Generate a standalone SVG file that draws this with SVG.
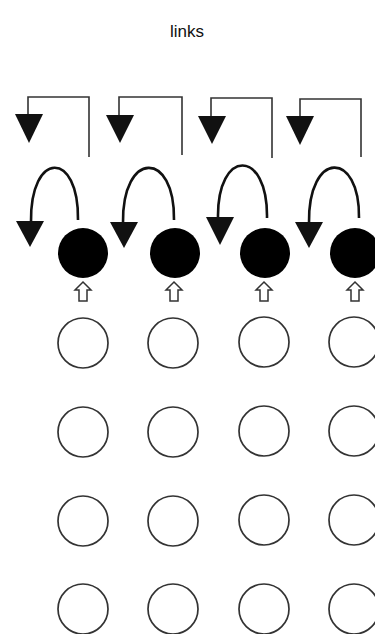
<svg xmlns="http://www.w3.org/2000/svg" width="375" height="634" viewBox="0 0 375 634">
<style>
.title{font-family:"Liberation Sans",Arial,sans-serif;font-size:17px;fill:#111;text-anchor:middle}
.bracket{fill:none;stroke:#333;stroke-width:1.6}
.arc{fill:none;stroke:#111;stroke-width:2.6}
.head{fill:#111}
.dot{fill:#000}
.ring{fill:none;stroke:#333;stroke-width:1.7}
.hollow{fill:#fff;stroke:#333;stroke-width:1.5;stroke-linejoin:miter}
</style>
<rect width="375" height="634" fill="#fff"/>
<text class="title" x="187" y="37">links</text>
<g id="connectors">
  <path class="bracket" d="M89,157 V97 H28 V115"/>
  <polygon class="head" points="15,114 43,114 29,143"/>
  <path class="bracket" d="M182,155 V97 H119 V115"/>
  <polygon class="head" points="106,115 134,115 120,143"/>
  <path class="bracket" d="M272,158 V98 H211 V117"/>
  <polygon class="head" points="198,116 226,116 212,144"/>
  <path class="bracket" d="M361,157 V99 H300 V117"/>
  <polygon class="head" points="286,116 314,116 300,145"/>

  <path class="arc" d="M78,220 C79,150 30,150 31,222"/>
  <polygon class="head" points="16,221 44,221 30,247"/>
  <path class="arc" d="M174,220 C175,150 122,150 123,223"/>
  <polygon class="head" points="110,222 138,222 124,248"/>
  <path class="arc" d="M267,218 C268,148 217,148 218,218"/>
  <polygon class="head" points="206,217 234,217 220,245"/>
  <path class="arc" d="M359,218 C360,150 308,150 309,223"/>
  <polygon class="head" points="295,222 323,222 309,248"/>

  <path class="hollow" d="M83,282 L91,290 H87 V301 H79 V290 H75 Z"/>
  <path class="hollow" d="M174,282 L182,290 H178 V301 H170 V290 H166 Z"/>
  <path class="hollow" d="M264,282 L272,290 H268 V301 H260 V290 H256 Z"/>
  <path class="hollow" d="M355,282 L363,290 H359 V301 H351 V290 H347 Z"/>
</g>
<g id="n-top-1"><circle class="dot" cx="83" cy="253" r="25"/></g>
<g id="n-top-2"><circle class="dot" cx="175" cy="253" r="25"/></g>
<g id="n-top-3"><circle class="dot" cx="265" cy="253" r="25"/></g>
<g id="n-top-4"><circle class="dot" cx="355" cy="253" r="25"/></g>

<g id="n-r1-c1"><circle class="ring" cx="83" cy="343" r="25"/></g>
<g id="n-r1-c2"><circle class="ring" cx="173" cy="343" r="25"/></g>
<g id="n-r1-c3"><circle class="ring" cx="264" cy="342" r="25"/></g>
<g id="n-r1-c4"><circle class="ring" cx="354" cy="342" r="25"/></g>
<g id="n-r2-c1"><circle class="ring" cx="83" cy="432" r="25"/></g>
<g id="n-r2-c2"><circle class="ring" cx="173" cy="432" r="25"/></g>
<g id="n-r2-c3"><circle class="ring" cx="264" cy="431" r="25"/></g>
<g id="n-r2-c4"><circle class="ring" cx="354" cy="431" r="25"/></g>
<g id="n-r3-c1"><circle class="ring" cx="83" cy="521" r="25"/></g>
<g id="n-r3-c2"><circle class="ring" cx="173" cy="521" r="25"/></g>
<g id="n-r3-c3"><circle class="ring" cx="264" cy="520" r="25"/></g>
<g id="n-r3-c4"><circle class="ring" cx="354" cy="520" r="25"/></g>
<g id="n-r4-c1"><circle class="ring" cx="83" cy="609" r="25"/></g>
<g id="n-r4-c2"><circle class="ring" cx="173" cy="609" r="25"/></g>
<g id="n-r4-c3"><circle class="ring" cx="264" cy="609" r="25"/></g>
<g id="n-r4-c4"><circle class="ring" cx="354" cy="609" r="25"/></g>
</svg>
